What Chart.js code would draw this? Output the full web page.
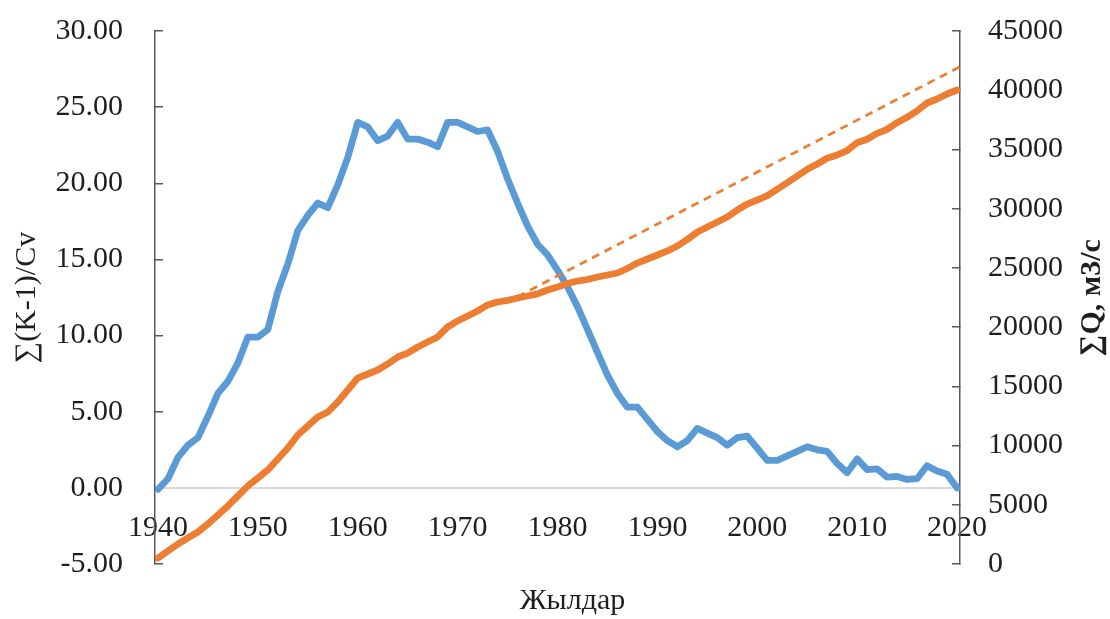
<!DOCTYPE html>
<html>
<head>
<meta charset="utf-8">
<script src="https://cdn.jsdelivr.net/npm/chart.js@4.4.1/dist/chart.umd.min.js"></script>
<style>
  html, body { margin: 0; padding: 0; background: #ffffff; }
  #wrap { width: 1110px; height: 619px; }
</style>
</head>
<body>
<div id="wrap"><canvas id="c" width="1110" height="619"></canvas></div>
<script>
// ---- data ----
const years = [];
for (let y = 1940; y <= 2020; y++) years.push(y);

const sumKCv = [
  -0.1, 0.6, 2.0, 2.8, 3.3, 4.7, 6.2, 7.0, 8.2, 9.9,
  9.9, 10.4, 12.9, 14.7, 16.9, 17.9, 18.7, 18.4, 19.9, 21.7,
  24.0, 23.7, 22.8, 23.1, 24.0, 22.9, 22.9, 22.7, 22.4, 24.0,
  24.0, 23.7, 23.4, 23.5, 22.1, 20.3, 18.7, 17.2, 16.0, 15.3,
  14.3, 13.2, 11.9, 10.4, 8.9, 7.4, 6.2, 5.3, 5.3, 4.5,
  3.7, 3.1, 2.7, 3.1, 3.9, 3.6, 3.3, 2.8, 3.3, 3.4,
  2.6, 1.8, 1.8, 2.1, 2.4, 2.7, 2.5, 2.4, 1.6, 1.0,
  1.9, 1.2, 1.25, 0.7, 0.75, 0.55, 0.6, 1.45, 1.1, 0.9,
  0.0
];

const sumQ = [
  500, 1100, 1690, 2200, 2700, 3380, 4140, 4900, 5740, 6590,
  7260, 7940, 8870, 9790, 10890, 11650, 12410, 12830, 13680, 14690,
  15700, 16040, 16380, 16890, 17480, 17810, 18320, 18740, 19170, 20010,
  20520, 20940, 21360, 21870, 22120, 22250, 22460, 22630, 22800, 23130,
  23390, 23680, 23890, 24020, 24230, 24400, 24570, 24950, 25410, 25750,
  26090, 26430, 26850, 27400, 28030, 28450, 28870, 29300, 29890, 30390,
  30730, 31100, 31640, 32190, 32760, 33320, 33770, 34250, 34530, 34900,
  35570, 35860, 36360, 36700, 37260, 37710, 38250, 38920, 39260, 39680,
  40020
];

const trendYears = [1976, 2020.7];
const trendQ = [22570, 42160];

const xTicks = [1940, 1950, 1960, 1970, 1980, 1990, 2000, 2010, 2020];

const leftTitle = '∑(K-1)/Cv';
const rightTitle = '∑Q, м3/с';
const bottomTitle = 'Жылдар';

// ---- styles ----
const FONT = "'Liberation Serif', 'Times New Roman', serif";
const TEXT = '#1e1e1e';
const AXIS = '#595959';
const BLUE = '#5B9BD5';
const ORANGE = '#ED7D31';

const toPts = (xs, ys) => xs.map((x, i) => ({ x: x, y: ys[i] }));

const titlePlugin = {
  id: 'extraTitles',
  afterDraw(chart) {
    const { ctx, chartArea, scales } = chart;
    ctx.save();
    ctx.fillStyle = TEXT;
    ctx.textAlign = 'center';
    ctx.textBaseline = 'middle';
    // right axis title (reads bottom to top)
    ctx.font = 'bold 30px ' + FONT;
    ctx.save();
    ctx.translate(scales.y1.right - 18, (chartArea.top + chartArea.bottom) / 2);
    ctx.rotate(-Math.PI / 2);
    ctx.fillText(rightTitle, 0, 0);
    ctx.restore();
    // bottom title
    ctx.font = '30px ' + FONT;
    ctx.fillText(bottomTitle, (chartArea.left + chartArea.right) / 2 + 15, 601);
    ctx.restore();
  }
};

const fixY = (w) => (s) => { s.width = w; s.paddingTop = 0; s.paddingBottom = 0; };

new Chart(document.getElementById('c'), {
  type: 'line',
  data: {
    datasets: [
      {
        label: 'sumK',
        data: toPts(years, sumKCv),
        yAxisID: 'y',
        borderColor: BLUE,
        borderWidth: 6.8,
        pointRadius: 0,
        tension: 0,
        borderJoinStyle: 'round',
        borderCapStyle: 'round',
        fill: false,
        order: 3
      },
      {
        label: 'sumQ',
        data: toPts(years, sumQ),
        yAxisID: 'y1',
        borderColor: ORANGE,
        borderWidth: 6.8,
        pointRadius: 0,
        tension: 0,
        borderJoinStyle: 'round',
        borderCapStyle: 'round',
        fill: false,
        order: 2
      },
      {
        label: 'trend',
        data: toPts(trendYears, trendQ),
        yAxisID: 'y1',
        borderColor: ORANGE,
        borderWidth: 2.7,
        borderDash: [8, 6],
        pointRadius: 0,
        tension: 0,
        fill: false,
        clip: false,
        order: 1
      }
    ]
  },
  options: {
    responsive: false,
    animation: false,
    devicePixelRatio: 1,
    layout: { padding: { top: 31, bottom: 55, left: 0, right: 0 } },
    plugins: { legend: { display: false }, tooltip: { enabled: false } },
    scales: {
      x: {
        type: 'linear',
        position: { y: 0 },
        min: 1939.7,
        max: 2020.3,
        afterBuildTicks: (s) => { s.ticks = xTicks.map(v => ({ value: v })); },
        grid: { display: false, drawTicks: false },
        border: { display: true, color: '#d9d9d9', width: 2 },
        ticks: {
          autoSkip: false,
          maxRotation: 0,
          padding: 22,
          color: TEXT,
          font: { family: FONT, size: 30 },
          callback: (v) => String(v)
        }
      },
      y: {
        type: 'linear',
        position: 'left',
        min: -5,
        max: 30,
        afterFit: fixY(155),
        grid: { display: true, drawOnChartArea: false, drawTicks: true, tickLength: -8, color: AXIS, lineWidth: 1.5 },
        border: { display: true, color: AXIS, width: 1.5 },
        ticks: {
          stepSize: 5,
          padding: 40,
          color: TEXT,
          font: { family: FONT, size: 30 },
          callback: (v) => Number(v).toFixed(2)
        },
        title: {
          display: true,
          text: leftTitle,
          color: TEXT,
          font: { family: FONT, size: 30 },
          padding: { top: 9, bottom: 0 }
        }
      },
      y1: {
        type: 'linear',
        position: 'right',
        min: 0,
        max: 45000,
        afterFit: fixY(150),
        grid: { display: true, drawOnChartArea: false, drawTicks: true, tickLength: -8, color: AXIS, lineWidth: 1.5 },
        border: { display: true, color: AXIS, width: 1.5 },
        ticks: {
          stepSize: 5000,
          padding: 36,
          color: TEXT,
          font: { family: FONT, size: 30 },
          callback: (v) => String(v)
        }
      }
    }
  },
  plugins: [titlePlugin]
});
</script>
</body>
</html>
